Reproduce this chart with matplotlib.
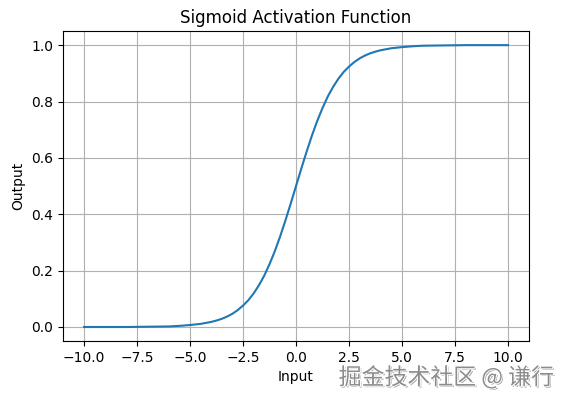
import matplotlib.pyplot as plt
import matplotlib.patheffects as pe

# values
x_vals = [-10.0, -9.0, -8.0, -7.0, -6.0, -5.5, -5.0, -4.5, -4.0, -3.75, -3.5, -3.25,
          -3.0, -2.75, -2.5, -2.25, -2.0, -1.75, -1.5, -1.25, -1.0, -0.75, -0.5, -0.25,
          0.0, 0.25, 0.5, 0.75, 1.0, 1.25, 1.5, 1.75, 2.0, 2.25, 2.5, 2.75,
          3.0, 3.25, 3.5, 3.75, 4.0, 4.5, 5.0, 5.5, 6.0, 7.0, 8.0, 9.0, 10.0]
y_vals = [0.000, 0.000, 0.000, 0.001, 0.002, 0.004, 0.007, 0.011, 0.018, 0.023, 0.029, 0.037,
          0.047, 0.060, 0.076, 0.095, 0.119, 0.148, 0.182, 0.223, 0.269, 0.321, 0.378, 0.438,
          0.500, 0.562, 0.622, 0.679, 0.731, 0.777, 0.818, 0.852, 0.881, 0.905, 0.924, 0.940,
          0.953, 0.963, 0.971, 0.977, 0.982, 0.989, 0.993, 0.996, 0.998, 0.999, 1.000, 1.000, 1.000]

fig = plt.figure(figsize=(5.66, 3.98), dpi=100)
ax = fig.add_axes([0.111, 0.143, 0.824, 0.779])
ax.plot(x_vals, y_vals, color='#1f77b4')
ax.set_title('Sigmoid Activation Function')
ax.set_xlabel('Input')
ax.set_ylabel('Output')
ax.grid(True)

# watermark
fig.text(0.978, 0.052, '掘金技术社区 @ 谦行', ha='right', va='center', fontsize=16.5,
         color='#8c8c8c', family=['Noto Sans CJK SC', 'DejaVu Sans'],
         path_effects=[pe.withSimplePatchShadow(offset=(1, -1), shadow_rgbFace='#555555', alpha=0.6),
                       pe.withStroke(linewidth=1.5, foreground='white')])

fig.savefig('out.png', dpi=100)
